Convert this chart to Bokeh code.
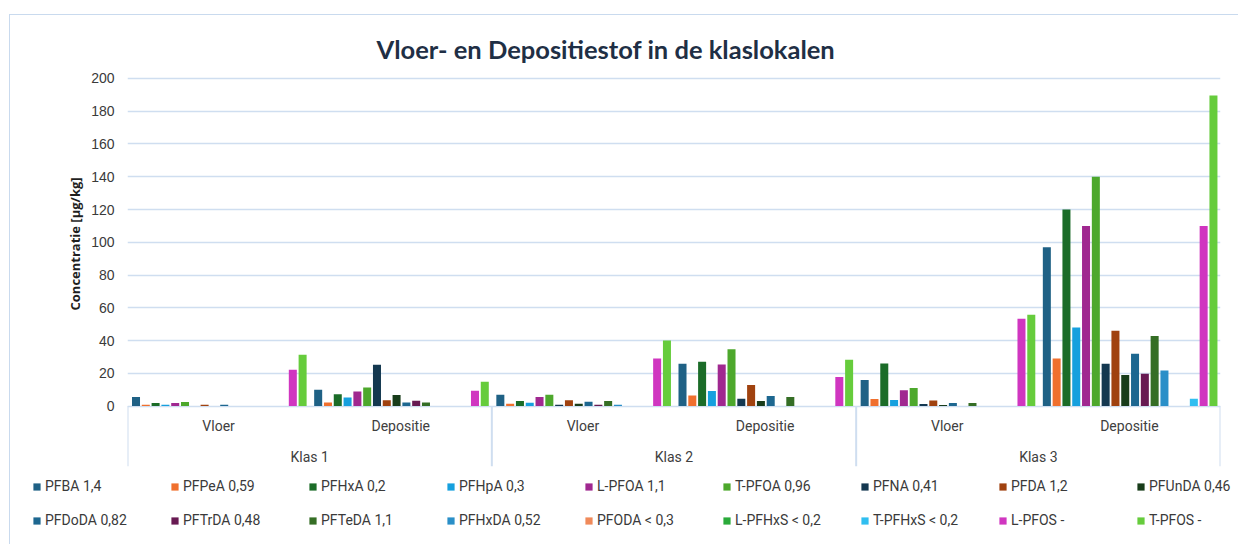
from bokeh.plotting import figure
from bokeh.layouts import column
from bokeh.models import (FactorRange, ColumnDataSource, Legend, LegendItem,
                          FixedTicker, Title, Range1d)
from bokeh.transform import dodge
from bokeh.core.properties import value
from bokeh.embed import file_html
from bokeh.resources import INLINE

# ---------------- data ----------------
klassen = ["Klas 1", "Klas 2", "Klas 3"]
monsters = ["Vloer", "Depositie"]
y_ticks = [0, 20, 40, 60, 80, 100, 120, 140, 160, 180, 200]

series_names = ["PFBA 1,4", "PFPeA 0,59", "PFHxA 0,2", "PFHpA 0,3", "L-PFOA 1,1",
                "T-PFOA 0,96", "PFNA 0,41", "PFDA 1,2", "PFUnDA 0,46",
                "PFDoDA 0,82", "PFTrDA 0,48", "PFTeDA 1,1", "PFHxDA 0,52",
                "PFODA < 0,3", "L-PFHxS < 0,2", "T-PFHxS < 0,2", "L-PFOS -", "T-PFOS -"]

# order: Klas1 Vloer, Klas1 Depositie, Klas2 Vloer, Klas2 Depositie, Klas3 Vloer, Klas3 Depositie
PFBA = [5.6, 9.9, 6.9, 25.9, 15.9, 97]
PFPeA = [0.8, 2.1, 1.4, 6.5, 4.3, 29]
PFHxA = [1.9, 7.2, 3.1, 27.1, 26.0, 120]
PFHpA = [0.8, 5.2, 2.0, 9.2, 3.7, 48]
L_PFOA = [1.9, 8.9, 5.5, 25.3, 9.6, 110]
T_PFOA = [2.5, 11.3, 6.9, 34.7, 11.0, 140]
PFNA = [0, 25.2, 0.8, 4.5, 1.3, 25.8]
PFDA = [0.8, 3.6, 3.5, 12.9, 3.4, 46]
PFUnDA = [0, 6.8, 1.4, 3.1, 0.7, 18.9]
PFDoDA = [0.8, 2.1, 2.7, 6.1, 1.8, 32]
PFTrDA = [0, 3.2, 0.8, 0, 0, 19.7]
PFTeDA = [0, 2.1, 3.1, 5.5, 1.8, 42.7]
PFHxDA = [0, 0, 0.8, 0, 0, 21.7]
PFODA = [0, 0, 0, 0, 0, 0]
L_PFHxS = [0, 0, 0, 0, 0, 0]
T_PFHxS = [0, 0, 0, 0, 0, 4.5]
L_PFOS = [22.1, 9.3, 29.0, 17.8, 53.3, 110]
T_PFOS = [31.3, 14.8, 40.0, 28.2, 55.7, 189.6]

series_values = [PFBA, PFPeA, PFHxA, PFHpA, L_PFOA, T_PFOA, PFNA, PFDA, PFUnDA,
                 PFDoDA, PFTrDA, PFTeDA, PFHxDA, PFODA, L_PFHxS, T_PFHxS, L_PFOS, T_PFOS]

colors = ["#1F6185", "#F0702E", "#1B6C28", "#16A0DE", "#A02890", "#4DA82C",
          "#143850", "#A0420F", "#183C1A", "#1D6790", "#681A52", "#356E25",
          "#2A8FC8", "#F08A5A", "#2AAA3A", "#30BEF0", "#D036C0", "#66CC3C"]

# ---------------- main figure ----------------
factors = [(k, m) for k in klassen for m in monsters]
y_lo, y_hi = -36.9, 201.2

p = figure(x_range=FactorRange(factors=factors, range_padding=0, group_padding=0,
                               factor_padding=0),
           y_range=(y_lo, y_hi), width=1228, height=455,
           output_backend="svg", toolbar_location=None, x_axis_location=None,
           min_border_left=117, min_border_right=18, min_border_top=61,
           min_border_bottom=4)
p.frame_align = False
p.outline_line_color = None
p.background_fill_color = "white"
p.border_fill_color = "white"

p.title.text = "Vloer- en Depositiestof in de klaslokalen"
p.title.align = "left"
p.title.offset = 249
p.title.text_font = "Lato"
p.title.text_font_style = "bold"
p.title.text_font_size = "25.5px"
p.title.text_color = "#1F2F45"
p.title.standoff = 25

p.yaxis.ticker = FixedTicker(ticks=y_ticks)
p.yaxis.axis_line_color = None
p.yaxis.major_tick_line_color = None
p.yaxis.minor_tick_line_color = None
p.yaxis.major_tick_out = 0
p.yaxis.major_tick_in = 0
p.yaxis.minor_tick_out = 0
p.yaxis.major_label_standoff = 13
p.yaxis.major_label_text_font = "Liberation Sans"
p.yaxis.major_label_text_font_size = "14px"
p.yaxis.major_label_text_color = "#3A3A3A"

ytitle = Title(text="Concentratie [µg/kg]", align="left", offset=156,
               text_font="Open Sans", text_font_style="bold", text_font_size="13px",
               text_color="#1F1F1F", standoff=9)
p.add_layout(ytitle, "left")

p.xgrid.visible = False
p.ygrid.ticker = FixedTicker(ticks=y_ticks)
p.ygrid.grid_line_color = "#CFDEF0"
p.ygrid.grid_line_width = 1.6

# category axis structure drawn in the frame below 0
grid_col = "#CFDEF0"
left_edges = ColumnDataSource(dict(x=[(k, monsters[0]) for k in klassen]))
p.segment(x0=dodge("x", -0.5, range=p.x_range), x1=dodge("x", -0.5, range=p.x_range),
          y0=0, y1=y_lo, source=left_edges, line_color=grid_col, line_width=2)
right_edge = ColumnDataSource(dict(x=[(klassen[-1], monsters[-1])]))
p.segment(x0=dodge("x", 0.5, range=p.x_range), x1=dodge("x", 0.5, range=p.x_range),
          y0=0, y1=y_lo, source=right_edge, line_color=grid_col, line_width=2)

cat_src = ColumnDataSource(dict(x=factors, label=[f[1] for f in factors]))
p.text(x="x", y=-11.9, text="label", source=cat_src, text_align="center",
       text_baseline="middle", text_font=value("Roboto"), text_font_size="14px",
       text_color="#404040")
klas_src = ColumnDataSource(dict(x=[(k, monsters[-1]) for k in klassen], label=klassen))
p.text(x=dodge("x", -0.5, range=p.x_range), y=-30.8, text="label", source=klas_src,
       text_align="center", text_baseline="middle", text_font=value("Roboto"),
       text_font_size="14px", text_color="#404040")

# ---------------- legend strip ----------------
# the legend lives in its own strip; its proxy renderers share the bar data but
# the strip's y range lies far above all values, so they draw nothing visible
lf = figure(width=1228, height=74,
            x_range=FactorRange(factors=factors, range_padding=0, group_padding=0,
                                factor_padding=0),
            y_range=Range1d(1000, 1001),
            output_backend="svg", toolbar_location=None, x_axis_location=None,
            y_axis_location=None, min_border=0)
lf.frame_align = False
lf.outline_line_color = None
lf.grid.visible = False
lf.background_fill_color = "white"
lf.border_fill_color = "white"

# bars (main chart) + legend proxies sharing the same sources
n = len(series_names)
step = 0.0538
bar_w = 0.044
items = []
for i, (name, vals, col) in enumerate(zip(series_names, series_values, colors)):
    src = ColumnDataSource(dict(x=factors, top=vals))
    off = (i - (n - 1) / 2) * step + 0.004
    p.vbar(x=dodge("x", off, range=p.x_range), top="top", bottom=0, width=bar_w,
           source=src, fill_color=col, line_color=None)
    proxy = lf.vbar(x="x", top="top", bottom="top", width=bar_w, source=src,
                    fill_color=col, line_color=None)
    items.append(LegendItem(label=name, renderers=[proxy]))

legend = Legend(items=items, location=(22, 14), orientation="horizontal", ncols=9,
                glyph_width=9, glyph_height=9, label_standoff=4, label_width=111,
                label_height=20, spacing=14, padding=0, margin=0,
                border_line_color=None, background_fill_alpha=0,
                label_text_font="Roboto", label_text_font_size="14px",
                label_text_color="#3A3A3A")
lf.add_layout(legend, "center")

layout = column(p, lf, spacing=0)
layout.styles = {"margin-left": "9px", "margin-top": "14px",
                 "border-left": "1px solid #C9DAEE", "border-top": "1px solid #C9DAEE"}
open("out.html", "w").write(file_html(layout, INLINE))
